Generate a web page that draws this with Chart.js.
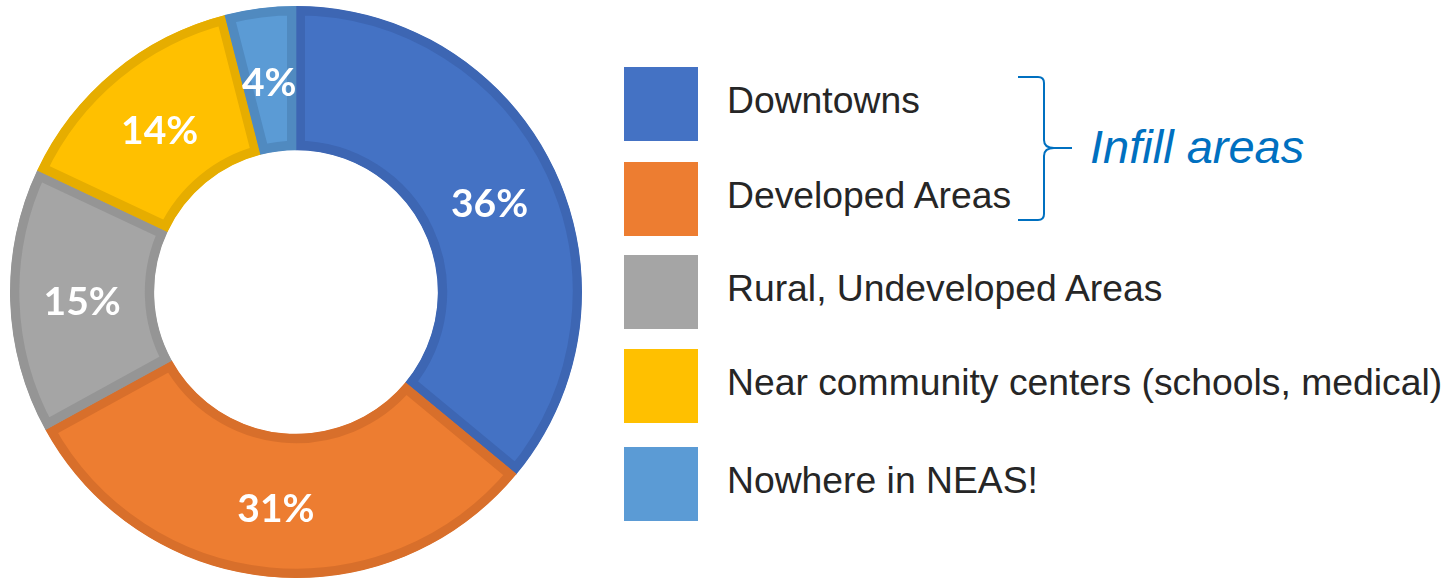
<!DOCTYPE html>
<html>
<head>
<meta charset="utf-8">
<script src="https://cdn.jsdelivr.net/npm/chart.js@4"></script>
<style>
  body { margin: 0; background: #fff; width: 1446px; height: 578px; overflow: hidden; position: relative; font-family: Arial, "Liberation Sans", Helvetica, sans-serif; }
  #wrap { position: absolute; left: 0; top: 0; width: 592px; height: 578px; }
  #legend { position: absolute; left: 624px; top: 0; }
  .row { position: absolute; left: 0; width: 820px; height: 74px; }
  .box { position: absolute; left: 0; top: 0; width: 74px; height: 74px; }
  .txt { position: absolute; left: 103px; top: 12px; font-size: 37.3px; line-height: 42px; color: #262626; white-space: nowrap; }
  #brace { position: absolute; left: 1010px; top: 70px; }
  #infill { position: absolute; left: 1090px; top: 120px; font-size: 47px; line-height: 54px; font-style: italic; color: #0070C0; white-space: nowrap; }
</style>
</head>
<body>
<div id="wrap"><canvas id="donut"></canvas></div>
<div id="legend"></div>
<svg id="brace" width="70" height="160">
  <path d="M8 7 L28 7 Q34 7 34 13 L34 70 Q34 78 44 78 L62 78 M44 78 Q34 78 34 86 L34 144 Q34 150 28 150 L8 150" fill="none" stroke="#0070C0" stroke-width="2"/>
</svg>
<div id="infill">Infill areas</div>
<script>
const labels = ["Downtowns", "Developed Areas", "Rural, Undeveloped Areas", "Near community centers (schools, medical)", "Nowhere in NEAS!"];
const shares = [36, 31, 15, 14, 4];
const colors = ['#4472C4', '#ED7D31', '#A5A5A5', '#FFC000', '#5B9BD5'];
const borders = ['#3D66B3', '#D86F2B', '#959595', '#E6AD00', '#508AC0'];
const rowTops = [67, 162, 255, 349, 447];

// legend built from the same arrays
const legend = document.getElementById('legend');
labels.forEach((name, i) => {
    const row = document.createElement('div');
    row.className = 'row';
    row.style.top = rowTops[i] + 'px';
    row.innerHTML = '<div class="box" style="background:' + colors[i] + '"></div><div class="txt">' + name + '</div>';
    legend.appendChild(row);
});

const pctLabels = {
    id: 'pctLabels',
    afterDatasetsDraw(chart) {
        const c = chart.ctx;
        const meta = chart.getDatasetMeta(0);
        c.save();
        c.fillStyle = '#fff';
        c.font = 'bold 39px Lato, "Open Sans", sans-serif';
        c.textAlign = 'center';
        c.textBaseline = 'middle';
        meta.data.forEach((arc, i) => {
            const p = arc.tooltipPosition();
            c.fillText(shares[i] + '%', p.x, p.y + 4);
        });
        c.restore();
    }
};

const ctx = document.querySelector('#donut');
new Chart(ctx, {
    type: 'doughnut',
    data: {
        labels: labels,
        datasets: [{
            data: shares,
            backgroundColor: colors,
            borderColor: borders,
            borderWidth: 9,
            borderAlign: 'inner',
            borderJoinStyle: 'miter',
            hoverOffset: 0
        }]
    },
    options: {
        responsive: true,
        maintainAspectRatio: false,
        animation: false,
        cutout: '49.6%',
        layout: { padding: { left: 10, top: 6, right: 10, bottom: 0 } },
        plugins: {
            legend: false,
            tooltip: { enabled: false }
        }
    },
    plugins: [pctLabels]
});
</script>
</body>
</html>
